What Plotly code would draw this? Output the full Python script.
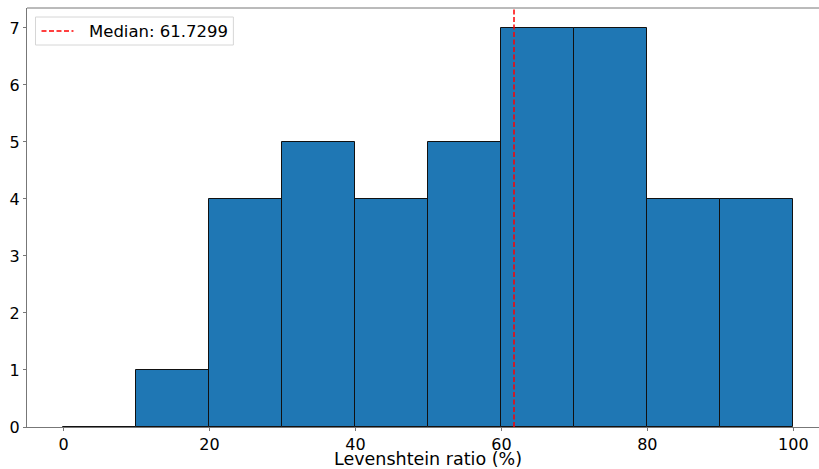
import plotly.graph_objects as go

bin_left = [0, 10, 20, 30, 40, 50, 60, 70, 80, 90]
counts = [0, 1, 4, 5, 4, 5, 7, 7, 4, 4]
bin_width = 10
median = 61.7299
x_ticks = [0, 20, 40, 60, 80, 100]
y_ticks = [0, 1, 2, 3, 4, 5, 6, 7]
x_title = "Levenshtein ratio (%)"
legend_label = f"Median: {median}"

centers = [b + bin_width / 2 for b in bin_left]
ymax = max(counts) * 1.05

W, H = 819, 469
l, r, t, b = 26.5, 0, 8, 42
pw, ph = W - l - r, H - t - b
px = lambda x: (x - l) / pw          # pixel -> paper x
py = lambda y: (H - b - y) / ph      # pixel -> paper y

fig = go.Figure()
fig.add_trace(go.Bar(
    x=centers, y=counts, width=[bin_width] * len(centers),
    marker=dict(color="#1f77b4", line=dict(color="#111", width=1)),
    showlegend=False, hoverinfo="skip",
))
fig.add_trace(go.Scatter(
    x=[median, median], y=[0, ymax], mode="lines",
    line=dict(color="red", width=1.5, dash="5px,2.5px"),
    name=legend_label, showlegend=False,
))

# top spine
fig.add_shape(type="line", xref="paper", yref="paper",
              x0=0, x1=1, y0=1, y1=1,
              line=dict(color="#777", width=1), layer="above")
# legend box (matplotlib style)
fig.add_shape(type="rect", xref="paper", yref="paper",
              x0=px(35), x1=px(233), y0=py(45), y1=py(17),
              line=dict(color="#d6d6d6", width=1), fillcolor="white",
              layer="above")
fig.add_shape(type="line", xref="paper", yref="paper",
              x0=px(41), x1=px(73), y0=py(31), y1=py(31),
              line=dict(color="red", width=1.5, dash="5px,2.5px"),
              layer="above")
fig.add_annotation(text=legend_label, xref="paper", yref="paper",
                   x=px(87), y=py(31), xanchor="left", yanchor="middle",
                   showarrow=False, font=dict(size=16.5, color="black"))
# x axis title centred on the full matplotlib axis (-5..105)
fig.add_annotation(text=x_title, xref="x", yref="paper",
                   x=50, y=py(459), xanchor="center", yanchor="middle",
                   showarrow=False, font=dict(size=17.5, color="black"))

fig.update_layout(
    width=W, height=H,
    margin=dict(l=l, r=r, t=t, b=b, pad=0, autoexpand=False),
    paper_bgcolor="white", plot_bgcolor="white",
    font=dict(family="DejaVu Sans", size=16, color="black"),
    bargap=0,
    showlegend=False,
    xaxis=dict(
        range=[-5, (W - 63.3) / 7.3],
        tickvals=x_ticks, ticktext=[str(v) for v in x_ticks],
        ticks="outside", ticklen=3, tickcolor="#777",
        showline=True, linecolor="#777", linewidth=1, mirror=False,
        showgrid=False, zeroline=False,
    ),
    yaxis=dict(
        range=[0, ymax],
        tickvals=y_ticks, ticktext=[str(v) for v in y_ticks],
        ticks="outside", ticklen=3, tickcolor="#777",
        showline=True, linecolor="#777", linewidth=1,
        showgrid=False, zeroline=False,
    ),
)
fig.write_html(
    "out.html",
    config={"displayModeBar": False},
    post_script="document.body.style.margin='0';document.body.style.overflow='hidden';",
)
